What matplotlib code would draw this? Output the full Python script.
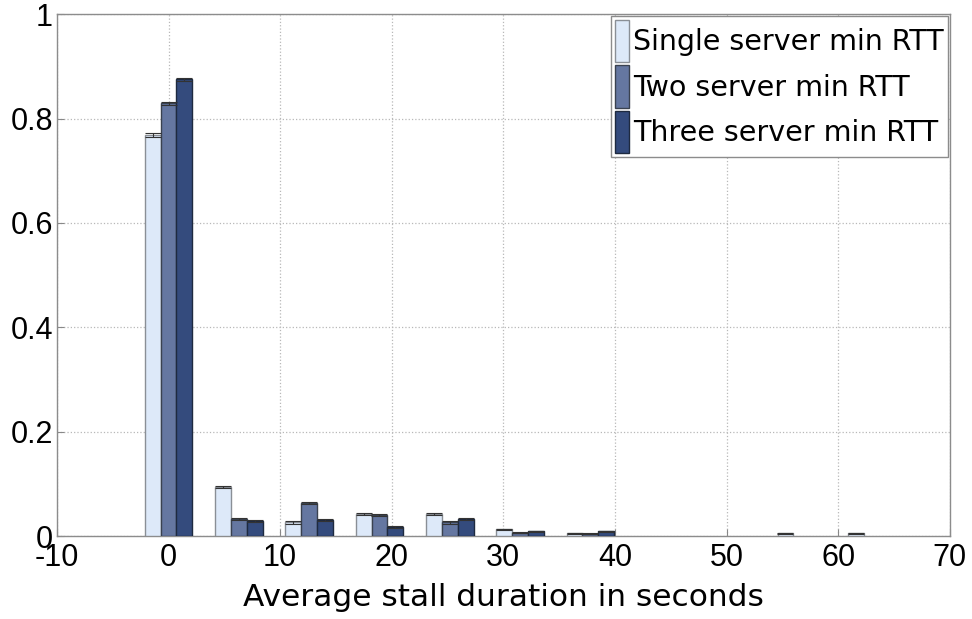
import matplotlib.pyplot as plt
import numpy as np

plt.rcParams["axes.unicode_minus"] = False

# histogram bin centres (seconds) and fraction of sessions per bin
bin_centers = [0, 6.3, 12.6, 18.9, 25.2, 31.5, 37.8, 44.1, 50.4, 56.7, 63.0]
single_rtt = [0.768, 0.094, 0.026, 0.042, 0.043, 0.013, 0.005, 0.0, 0.0, 0.005, 0.005]
two_rtt = [0.829, 0.033, 0.063, 0.041, 0.026, 0.006, 0.004, 0.0, 0.0, 0.0, 0.0]
three_rtt = [0.875, 0.029, 0.030, 0.018, 0.033, 0.009, 0.009, 0.0, 0.0, 0.0, 0.0]
single_err = [0.004, 0.002, 0.002, 0.002, 0.002, 0.001, 0.001, 0, 0, 0.001, 0.001]
two_err = [0.003, 0.002, 0.002, 0.002, 0.002, 0.001, 0.001, 0, 0, 0, 0]
three_err = [0.002, 0.002, 0.002, 0.002, 0.002, 0.001, 0.001, 0, 0, 0, 0]
labels = ["Single server min RTT", "Two server min RTT", "Three server min RTT"]
colors = ["#dde9f9", "#6577a1", "#344b7d"]
edges = ["#8a8f96", "#3a4250", "#1e2a40"]

fig = plt.figure(figsize=(9.72, 6.19), dpi=100)
ax = fig.add_axes([0.0586, 0.134, 0.9185, 0.843])

x = np.array(bin_centers)
w = 1.42
series = [(single_rtt, single_err), (two_rtt, two_err), (three_rtt, three_err)]
for i, (vals, err) in enumerate(series):
    pos = x + (i - 1) * w
    vals = np.array(vals)
    err = np.array(err)
    # empty bins get no outline
    lw = np.where(vals > 0, 1.0, 0.0)
    ax.bar(pos, vals, width=w, color=colors[i], edgecolor=edges[i],
           linewidth=lw, label=labels[i], zorder=3)
    mask = vals > 0
    ax.errorbar(pos[mask], vals[mask], yerr=err[mask], fmt="none",
                ecolor="#333333", elinewidth=0.8, capsize=6, capthick=0.8,
                zorder=4)

ax.set_xlim(-10, 70)
ax.set_ylim(0, 1)
ax.set_xticks(np.arange(-10, 71, 10))
ax.set_yticks([0, 0.2, 0.4, 0.6, 0.8, 1])
ax.set_yticklabels(["0", "0.2", "0.4", "0.6", "0.8", "1"])
ax.grid(True, linestyle=":", color="#b8b8b8", linewidth=0.9, zorder=0)
ax.tick_params(direction="in", length=5, color="#888888", labelsize=22)
ax.tick_params(axis="y", pad=3)
ax.tick_params(axis="x", pad=5)
for lbl in ax.get_xticklabels() + ax.get_yticklabels():
    lbl.set_family("Liberation Sans")
for sp in ax.spines.values():
    sp.set_color("#8c8c8c")
    sp.set_linewidth(1.0)

ax.set_xlabel("Average stall duration in seconds", fontsize=22.5,
              family="DejaVu Sans", labelpad=7)

leg = ax.legend(loc="upper right", prop={"family": "DejaVu Sans", "size": 20.5},
                handlelength=0.5, handleheight=1.9, handletextpad=0.15,
                borderaxespad=0.05, borderpad=0.15, labelspacing=0.12,
                fancybox=False, framealpha=1)
leg.get_frame().set_edgecolor("#8c8c8c")
leg.get_frame().set_linewidth(1.0)

fig.savefig("out.png", dpi=100)
